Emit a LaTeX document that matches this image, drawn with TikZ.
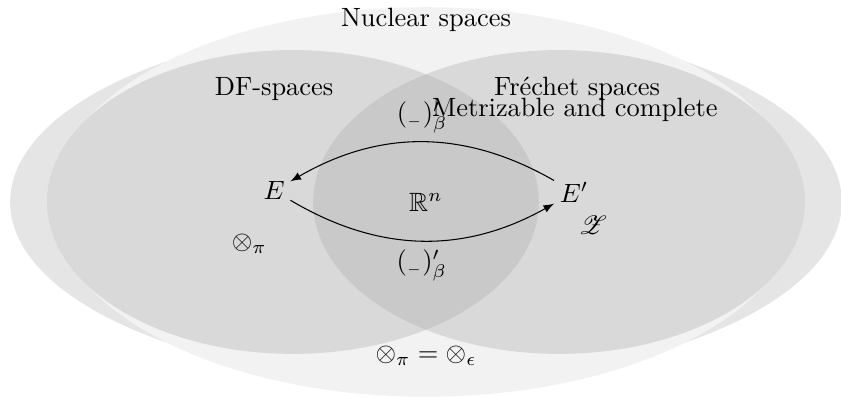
\documentclass[tikz,border=0pt]{standalone}
\usepackage{amssymb}
\usepackage{mathrsfs}
\begin{document}
\begin{tikzpicture}[>=latex,
  space/.style={fill=black!15},
  obj/.style={inner sep=2pt}]
\useasboundingbox (-5.665,-2.606) rectangle (5.519,2.686);
% regions
\fill[black!10] (0,0) ellipse (5.53 and 2.39);
\fill[black!5] (0,0) ellipse (4.98 and 2.59);
\fill[space] (-1.77,0) ellipse (3.27 and 2.02);
\fill[space] (1.77,0) ellipse (3.27 and 2.02);
\begin{scope}
  \clip (-1.77,0) ellipse (3.27 and 2.02);
  \fill[black!21] (1.77,0) ellipse (3.27 and 2.02);
\end{scope}
% labels
\node (nuclear) at (0,2.42) {Nuclear spaces};
\node (df) at (-2.02,1.50) {DF-spaces};
\node (frechet) at (2.01,1.50) {Fréchet spaces};
\node (metric) at (1.98,1.22) {Metrizable and complete};
\node (rn) at (0,0) {$\mathbb{R}^n$};
\node (tenpi) at (-2.35,-0.56) {$\otimes_\pi$};
\node (zz) at (2.22,-0.31) {$\mathscr{Z}$};
\node (teneq) at (0,-2.05) {$\otimes_\pi = \otimes_\epsilon$};
% duality
\node[obj] (E) at (-2.02,0.15) {$E$};
\node[obj] (Ep) at (1.97,0.13) {$E'$};
\draw[->] (Ep) to[bend right=30] node[above] (dual1) {$({}_{\scriptscriptstyle -})'_\beta$} (E);
\draw[->] (E) to[bend right=30] node[below] (dual2) {$({}_{\scriptscriptstyle -})'_\beta$} (Ep);
\end{tikzpicture}
\end{document}
